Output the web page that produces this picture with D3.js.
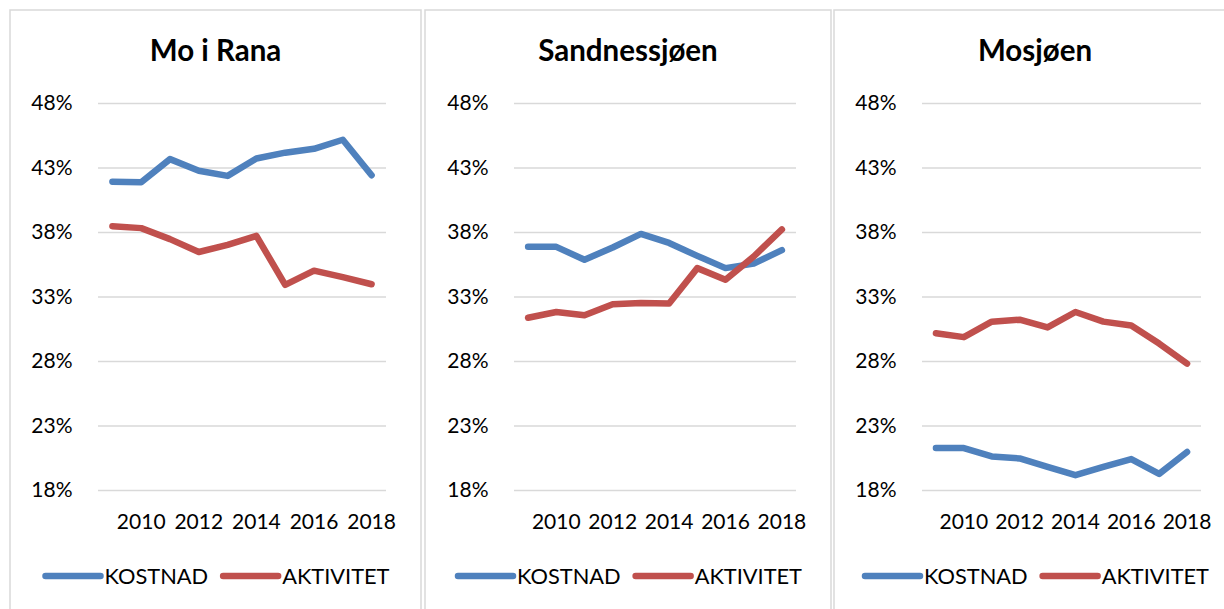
<!DOCTYPE html>
<html><head><meta charset="utf-8">
<script src="https://cdn.jsdelivr.net/npm/d3@7"></script>
<style>
body{margin:0;background:#fff;}
svg{display:block;}
text{font-family:Lato,"Open Sans",sans-serif;fill:#000;}
</style></head>
<body>
<svg id="chart" width="1224" height="609"></svg>
<script>
// ---- data ----
const years = [2009,2010,2011,2012,2013,2014,2015,2016,2017,2018];
const xTickLabels = [2010,2012,2014,2016,2018];
const yTickValues = [18,23,28,33,38,43,48];
const titles = ["Mo i Rana","Sandnessjøen","Mosjøen"];
const seriesNames = ["KOSTNAD","AKTIVITET"];

const moiRanaKostnad   = [41.9,41.85,43.65,42.75,42.35,43.7,44.15,44.45,45.15,42.4];
const moiRanaAktivitet = [38.45,38.3,37.45,36.45,37.0,37.7,33.9,35.0,34.5,33.95];
const sandKostnad      = [36.85,36.85,35.85,36.8,37.85,37.15,36.15,35.2,35.55,36.6];
const sandAktivitet    = [31.35,31.8,31.55,32.4,32.5,32.45,35.2,34.3,36.1,38.2];
const mosKostnad       = [21.25,21.25,20.6,20.45,19.8,19.15,19.8,20.4,19.25,20.95];
const mosAktivitet     = [30.15,29.85,31.05,31.2,30.6,31.8,31.05,30.75,29.35,27.8];

const colors = ["#4F81BD","#C0504D"];

// ---- layout ----
const panels = [
  {title: titles[0], left:10,  right:421,  plotL:98,  plotR:386,  series:[moiRanaKostnad, moiRanaAktivitet]},
  {title: titles[1], left:425, right:831,  plotL:514, plotR:796,  series:[sandKostnad, sandAktivitet]},
  {title: titles[2], left:834, right:1236, plotL:922, plotR:1201, series:[mosKostnad, mosAktivitet]}
];
const plotTop = 103, plotBottom = 490;
const svg = d3.select("#chart");
svg.append("rect").attr("width",1224).attr("height",609).attr("fill","#fff");

const y = d3.scaleLinear().domain([18,48]).range([plotBottom, plotTop]);
const fs = 21;
const lfs = 21.8;

panels.forEach(p => {
  const g = svg.append("g");
  g.append("rect")
    .attr("x", p.left).attr("y", 10)
    .attr("width", p.right - p.left).attr("height", 640)
    .attr("fill", "#fff").attr("stroke", "#D9D9D9").attr("stroke-width", 1.5);

  const cx = (p.left + p.right) / 2;
  g.append("text").attr("x", cx).attr("y", 61)
    .attr("text-anchor","middle").style("font-weight","bold").style("font-size","29.5px")
    .text(p.title);

  const x = d3.scaleBand().domain(years).range([p.plotL, p.plotR]);

  // gridlines
  const grid = g.append("g").attr("transform", `translate(${p.plotL},0)`)
    .call(d3.axisLeft(y).tickValues(yTickValues).tickSize(-(p.plotR - p.plotL)).tickFormat(""));
  grid.select(".domain").remove();
  grid.selectAll("line").attr("stroke","#D9D9D9").attr("stroke-width",1.5);

  // y axis labels
  const ya = g.append("g").attr("transform", `translate(${p.plotL},0)`)
    .call(d3.axisLeft(y).tickValues(yTickValues).tickSize(0).tickPadding(25.5).tickFormat(d => d + "%"));
  ya.select(".domain").remove();
  ya.selectAll("text").style("font-size", fs + "px").style("font-family","Lato,'Open Sans',sans-serif").attr("fill","#000");

  // x axis labels
  const xa = g.append("g").attr("transform", `translate(0,${plotBottom})`)
    .call(d3.axisBottom(x).tickValues(xTickLabels).tickSize(0).tickPadding(24.5));
  xa.select(".domain").remove();
  xa.selectAll("text").style("font-size", fs + "px").style("font-family","Lato,'Open Sans',sans-serif").attr("fill","#000");

  const line = d3.line().x((d,i) => x(years[i]) + x.bandwidth()/2).y(d => y(d));
  p.series.forEach((s, si) => {
    g.append("path").datum(s).attr("d", line)
      .attr("fill","none").attr("stroke", colors[si]).attr("stroke-width", 6.5)
      .attr("stroke-linecap","round").attr("stroke-linejoin","round");
  });

  // legend
  const lg = g.append("g");
  const lineLen = 55, gap1 = 4, gap2 = 15, ly = 576;
  let xpos = 0;
  seriesNames.forEach((n, i) => {
    const it = lg.append("g");
    it.append("line").attr("x1", xpos).attr("x2", xpos + lineLen).attr("y1", ly).attr("y2", ly)
      .attr("stroke", colors[i]).attr("stroke-width", 6.5).attr("stroke-linecap","round");
    const t = it.append("text").attr("x", xpos + lineLen + gap1).attr("y", ly + 8)
      .style("font-size", lfs + "px").text(n);
    xpos += lineLen + gap1 + t.node().getComputedTextLength() + gap2;
  });
  const total = xpos - gap2;
  lg.attr("transform", `translate(${cx - total/2 + 2},0)`);
});
</script>
</body></html>
